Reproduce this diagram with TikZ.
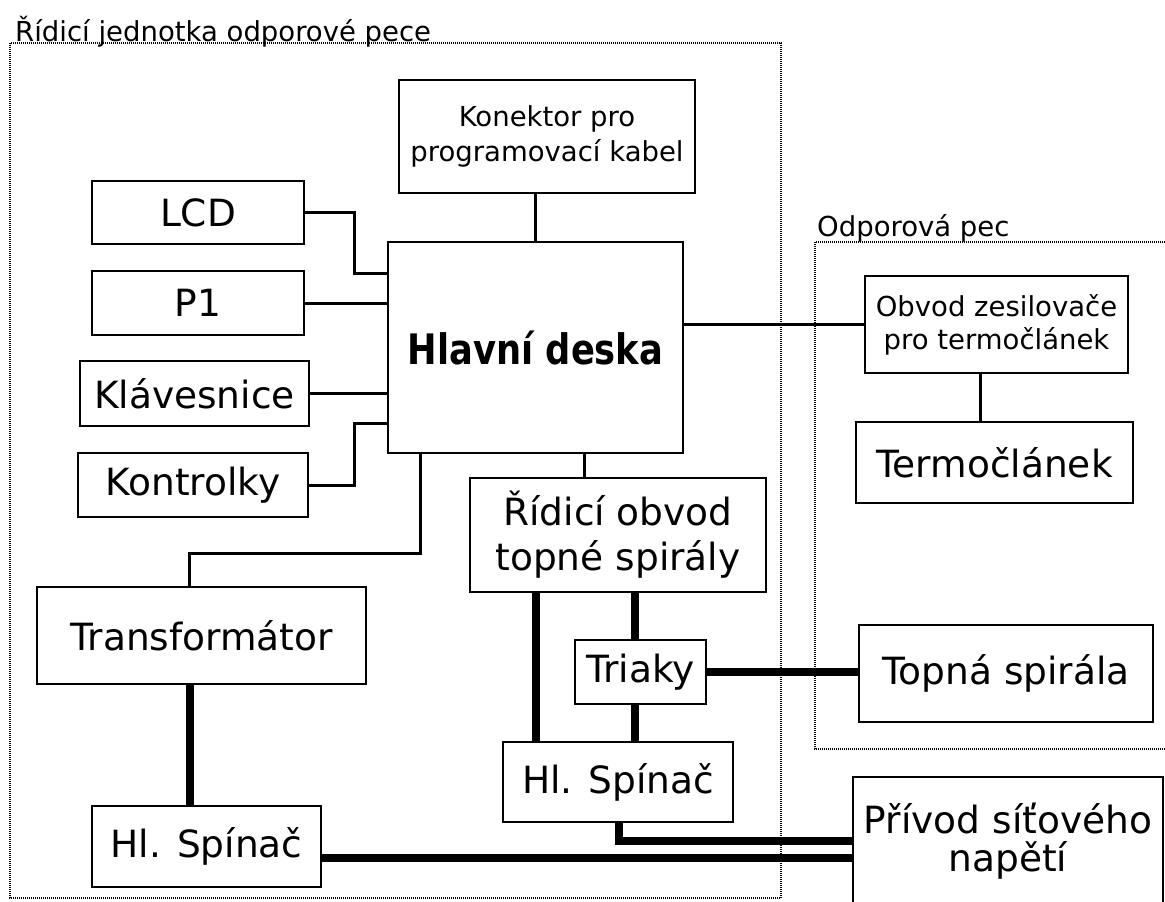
\documentclass[tikz,border=0pt]{standalone}
\usepackage{fontspec}
\setmainfont{DejaVu Sans}
\usepackage{graphicx}
\begin{document}
\begin{tikzpicture}[x=1pt,y=-1pt,
  box/.style={draw, line width=1.3pt, inner sep=0pt, align=center, fill=white},
  big/.style={font=\fontsize{37.5}{45}\selectfont},
  small/.style={font=\fontsize{27.5}{35}\selectfont},
  sig/.style={line width=3pt},
  power/.style={line width=7.5pt},
  frame/.style={line width=1.1pt, dash pattern=on 1pt off 1pt}]
\clip (0,0) rectangle (1165,902);
\fill[white] (0,0) rectangle (1165,902);
% containers
\draw[frame] (10,43) rectangle (781,898);
\draw[frame] (815,242) rectangle (1175,749);
\node[small, anchor=base west, inner sep=0pt] (t1) at (15,41) {Řídicí jednotka odporové pece};
\node[small, anchor=base west, inner sep=0pt] (t2) at (817,236) {Odporová pec};
% boxes
\node[box, small, minimum width=296pt, minimum height=113pt] (kon) at (547,136.5) {Konektor pro\\programovací kabel};
\node[box, big, minimum width=212pt, minimum height=63pt] (lcd) at (198,212.5) {LCD};
\node[box, big, minimum width=212pt, minimum height=64pt] (p1) at (198,303) {P1};
\node[box, big, minimum width=229pt, minimum height=65pt] (klav) at (194.5,393.5) {Klávesnice};
\node[box, big, minimum width=230pt, minimum height=64pt] (kontr) at (193,485) {Kontrolky};
\node[box, minimum width=295pt, minimum height=211pt, font=\fontsize{42}{45}\bfseries\selectfont] (hl) at (535.5,347.5) {\scalebox{0.84}[1]{Hlavní deska}};
\node[box, big, minimum width=296pt, minimum height=114pt] (rid) at (618,535) {Řídicí obvod\\topné spirály};
\node[box, big, minimum width=131pt, minimum height=64pt] (tri) at (640.5,672) {Triaky};
\node[box, big, minimum width=230pt, minimum height=80pt] (sp2) at (618,782) {Hl. Spínač};
\node[box, big, minimum width=329pt, minimum height=97pt] (tr) at (201.5,635.5) {Transformátor};
\node[box, big, minimum width=229pt, minimum height=81pt] (sp1) at (206.5,846.5) {Hl. Spínač};
\node[box, minimum width=263pt, minimum height=97pt, font=\fontsize{27.5}{33}\selectfont] (obv) at (996.5,324.5) {Obvod zesilovače\\pro termočlánek};
\node[box, big, minimum width=277pt, minimum height=81pt] (ter) at (994.5,462.5) {Termočlánek};
\node[box, big, minimum width=294pt, minimum height=97pt] (top) at (1006,673.5) {Topná spirála};
\node[box, minimum width=310pt, minimum height=128pt, font=\fontsize{37.5}{38}\selectfont] (pri) at (1008,841) {Přívod síťového\\napětí};
% signal connectors
\draw[sig] (hl.north) -- (hl.north |- kon.south);
\draw[sig] (lcd.east) -| (354,273) -- (hl.west |- 0,273);
\draw[sig] (p1.east) -- (p1.east -| hl.west);
\draw[sig] (klav.east) -- (klav.east -| hl.west);
\draw[sig] (kontr.east) -| (354,423) -- (hl.west |- 0,423);
\draw[sig] (hl.south -| 420,0) |- (189,553) -- (tr.north -| 189,0);
\draw[sig] (hl.south -| 584,0) -- (rid.north -| 584,0);
\draw[sig] (obv.west) -- (obv.west -| hl.east);
\draw[sig] (obv.south -| 980,0) -- (ter.north -| 980,0);
% power connectors
\draw[power] (tr.south -| 190,0) -- (sp1.north -| 190,0);
\draw[power] (rid.south -| 536,0) -- (sp2.north -| 536,0);
\draw[power] (rid.south -| 635,0) -- (tri.north -| 635,0);
\draw[power] (tri.south -| 635,0) -- (sp2.north -| 635,0);
\draw[power] (tri.east) -- (tri.east -| top.west);
\draw[power] (sp2.south -| 619,0) |- (pri.west |- 0,841);
\draw[power] (sp1.east |- 0,858) -- (pri.west |- 0,858);
\end{tikzpicture}
\end{document}
